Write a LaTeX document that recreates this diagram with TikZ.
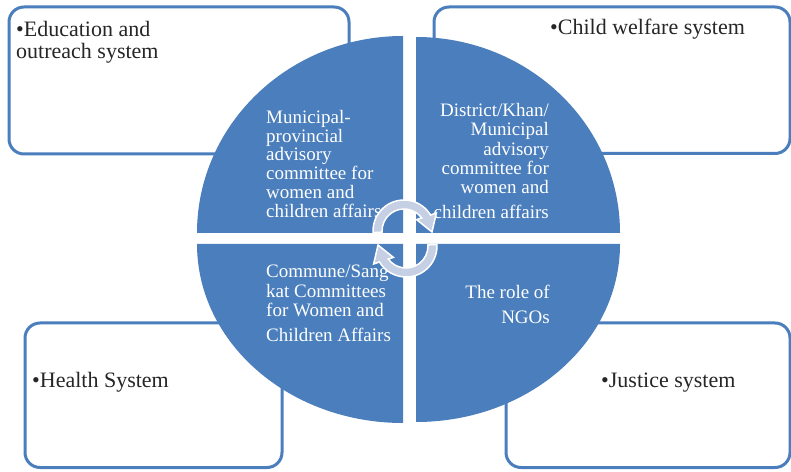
\documentclass[tikz,border=0pt]{standalone}
\usepackage{fontspec}
\setmainfont{Liberation Serif}
\definecolor{quadblue}{RGB}{74,126,188}
\definecolor{boxblue}{RGB}{74,126,188}
\definecolor{arrowfill}{RGB}{198,208,228}
\definecolor{boxtext}{RGB}{38,38,38}
\begin{document}
\begin{tikzpicture}[x=1pt,y=1pt,
  sysbox/.style={draw=boxblue, line width=3pt, rounded corners=15pt, fill=white, inner sep=0pt},
  quad/.style={fill=quadblue},
  boxlabel/.style={inner sep=0pt, text=boxtext, font=\fontsize{22}{22}\selectfont, align=left},
  quadlabel/.style={inner sep=0pt, text=white, font=\fontsize{19}{19.4}\selectfont},
  cyc/.style={fill=arrowfill, draw=white, line width=1.5pt},
  cycarrow/.pic={\path[cyc] (183:31pt) arc[start angle=183,end angle=31,radius=31pt] -- (29:37pt) -- (-2:28pt) -- (42:17pt) -- (36.3:22pt) arc[start angle=36.3,end angle=183,radius=22pt] -- cycle;}]
\useasboundingbox (0,0) rectangle (791,471);

% outer system boxes
\node[sysbox, anchor=south west, minimum width=340pt, minimum height=147pt] (eduBox) at (7.5,315.5) {};
\node[sysbox, anchor=south west, minimum width=356pt, minimum height=146.5pt] (childBox) at (432.5,316) {};
\node[sysbox, anchor=south west, minimum width=257pt, minimum height=144.5pt] (healthBox) at (23.5,2) {};
\node[sysbox, anchor=south west, minimum width=284pt, minimum height=144.5pt] (justiceBox) at (504.5,2) {};

\node[boxlabel, anchor=north west] (eduText) at (16,450) {•Education and\\outreach system};
\node[boxlabel, anchor=base west] (childText) at (550,436) {•Child welfare system};
\node[boxlabel, anchor=base west] (healthText) at (32,84) {•Health System};
\node[boxlabel, anchor=base west] (justiceText) at (601,84) {•Justice system};

% quadrants
\fill[quad] (403,238) -- (197,238) arc[start angle=180,end angle=90,x radius=206pt,y radius=197pt] -- cycle;
\fill[quad] (416,238) -- (416,434) arc[start angle=90,end angle=0,x radius=204pt,y radius=196pt] -- cycle;
\fill[quad] (403,227) -- (197,227) arc[start angle=180,end angle=270,x radius=206pt,y radius=179pt] -- cycle;
\fill[quad] (416,227) -- (416,49) arc[start angle=270,end angle=360,x radius=204pt,y radius=178pt] -- cycle;

\node[quadlabel, anchor=north west, align=left, font=\fontsize{19}{18.8}\selectfont] (provText) at (266,361)
  {Municipal-\\provincial\\advisory\\committee for\\women and\\children affairs};
\node[quadlabel, anchor=north east, align=right] (distText) at (549,368)
  {District/Khan/\\Municipal\\advisory\\committee for\\women and\\[5.5pt]children affairs};
\node[quadlabel, anchor=north west, align=left] (commText) at (266,206)
  {Commune/Sang\\kat Committees\\for Women and\\[5.5pt]Children Affairs};
\node[quadlabel, anchor=north east, align=right] (ngoText) at (550,186)
  {The role of\\[5.5pt]NGOs};

% central cycle arrows
\coordinate (hubTop) at (404,240);
\coordinate (hubBot) at (406,225);
\pic at (hubTop) {cycarrow};
\pic[rotate=180] at (hubBot) {cycarrow};
\end{tikzpicture}
\end{document}
